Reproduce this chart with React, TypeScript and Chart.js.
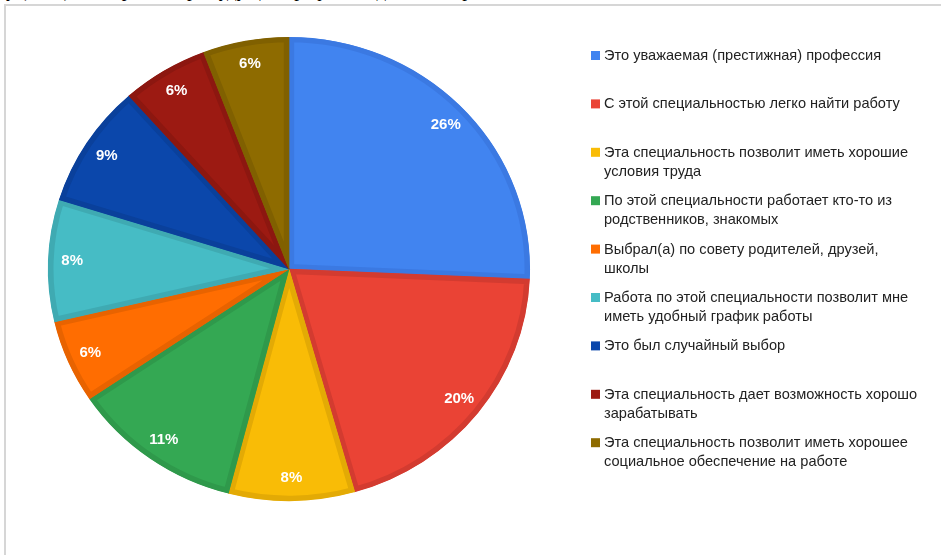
import { useEffect, useRef } from "react";
import { Chart, PieController, ArcElement } from "chart.js";

Chart.register(PieController, ArcElement);

const categories: string[][] = [
  ["Это уважаемая (престижная) профессия"],
  ["С этой специальностью легко найти работу"],
  ["Эта специальность позволит иметь хорошие", "условия труда"],
  ["По этой специальности работает кто-то из", "родственников, знакомых"],
  ["Выбрал(а) по совету родителей, друзей,", "школы"],
  ["Работа по этой специальности позволит мне", "иметь удобный график работы"],
  ["Это был случайный выбор"],
  ["Эта специальность дает возможность хорошо", "зарабатывать"],
  ["Эта специальность позволит иметь хорошее", "социальное обеспечение на работе"],
];

// shares (%); labels show them rounded
const values: number[] = [25.7, 19.9, 8.45, 11.49, 5.8, 8.49, 8.6, 5.8, 5.77];

const fillColors: string[] = [
  "#4184f0",
  "#ea4335",
  "#f9bc06",
  "#34a853",
  "#ff6d01",
  "#46bcc5",
  "#0b47ab",
  "#9c1a12",
  "#8e6b00",
];

const edgeColors: string[] = [
  "#3b79e2",
  "#d33b30",
  "#e3aa05",
  "#2f994b",
  "#e86300",
  "#3faab2",
  "#0a409b",
  "#8c1710",
  "#806000",
];

const STRETCH_X = 1.039;

const pieStretch = {
  id: "pieStretch",
  beforeDatasetsDraw(chart: any) {
    const ctx = chart.ctx as CanvasRenderingContext2D;
    const a = chart.chartArea;
    const cx = (a.left + a.right) / 2;
    ctx.save();
    ctx.translate(cx, 0);
    ctx.scale(STRETCH_X, 1);
    ctx.translate(-cx, 0);
  },
  afterDatasetsDraw(chart: any) {
    chart.ctx.restore();
  },
};

const percentLabels = {
  id: "percentLabels",
  afterDatasetsDraw(chart: any) {
    const ctx = chart.ctx as CanvasRenderingContext2D;
    const meta = chart.getDatasetMeta(0);
    const total = values.reduce((s, v) => s + v, 0);
    ctx.save();
    ctx.font = "bold 15px 'Liberation Sans', Arial, sans-serif";
    ctx.fillStyle = "#ffffff";
    ctx.textAlign = "center";
    ctx.textBaseline = "middle";
    meta.data.forEach((arc: any, i: number) => {
      const p = arc.getProps(["x", "y", "startAngle", "endAngle", "outerRadius"], true);
      const mid = (p.startAngle + p.endAngle) / 2;
      const r = p.outerRadius * 0.9;
      const pct = Math.round((values[i] / total) * 100);
      ctx.fillText(pct + "%", p.x + Math.cos(mid) * r * STRETCH_X, p.y + Math.sin(mid) * r);
    });
    ctx.restore();
  },
};

const sideLegend = {
  id: "sideLegend",
  afterDraw(chart: any) {
    const ctx = chart.ctx as CanvasRenderingContext2D;
    const boxX = 591;
    const textX = 604;
    const firstY = 56;
    const step = 48.4;
    const lineH = 19;
    ctx.save();
    ctx.font = "14.6px 'Liberation Sans', Arial, sans-serif";
    ctx.textAlign = "left";
    ctx.textBaseline = "middle";
    categories.forEach((lines, i) => {
      const y = firstY + step * i;
      ctx.fillStyle = fillColors[i];
      ctx.fillRect(boxX, y - 5, 9, 9);
      ctx.fillStyle = "#222222";
      lines.forEach((ln, j) => {
        ctx.fillText(ln, textX, y + j * lineH);
      });
    });
    ctx.restore();
  },
};

export default function App() {
  const ref = useRef<HTMLCanvasElement | null>(null);

  useEffect(() => {
    if (!ref.current) return;
    const chart = new Chart(ref.current, {
      type: "pie",
      data: {
        labels: categories.map((c) => c.join(" ")),
        datasets: [
          {
            data: values,
            backgroundColor: fillColors,
            borderColor: edgeColors,
            borderWidth: 5,
            borderAlign: "inner",
            hoverOffset: 0,
            radius: 232,
          } as any,
        ],
      },
      options: {
        responsive: false,
        animation: false,
        layout: { padding: { left: 57, right: 420, top: 37, bottom: 54 } },
        plugins: { legend: { display: false }, tooltip: { enabled: false } } as any,
        events: [],
      },
      plugins: [pieStretch, percentLabels, sideLegend],
    });
    return () => chart.destroy();
  }, []);

  return (
    <div
      style={{
        position: "fixed",
        left: 0,
        top: 0,
        width: 941,
        height: 555,
        background: "#ffffff",
        overflow: "hidden",
      }}
    >
      <div
        style={{
          position: "absolute",
          left: 0,
          top: 0,
          width: 941,
          height: 4,
          overflow: "hidden",
        }}
      >
        <div
          style={{
            position: "absolute",
            left: 6,
            top: -20,
            whiteSpace: "nowrap",
            fontFamily: "'Liberation Serif', 'Times New Roman', serif",
            fontSize: 19,
            color: "#000",
          }}
        >
          у (2011), что при выборе будущей профессии для них первостепенное значение
        </div>
      </div>
      <div
        style={{
          position: "absolute",
          left: 4,
          top: 4,
          width: 941,
          height: 560,
          borderTop: "2px solid #d6d6d6",
          borderLeft: "2px solid #d6d6d6",
        }}
      />
      <canvas
        ref={ref}
        width={941}
        height={555}
        style={{ position: "absolute", left: 0, top: 0, width: 941, height: 555 }}
      />
    </div>
  );
}
